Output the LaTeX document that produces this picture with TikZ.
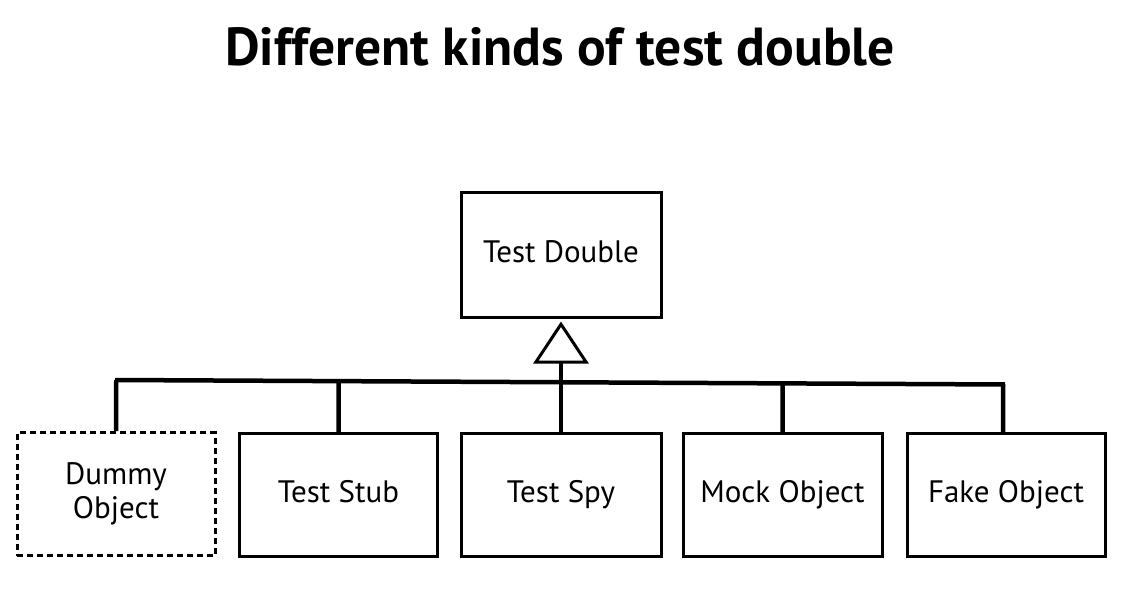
\documentclass[tikz,border=0pt]{standalone}
\usepackage{fontspec}
\setmainfont{PT Sans}
\usetikzlibrary{arrows.meta,calc}
\begin{document}
\begin{tikzpicture}[x=1pt,y=-1pt,
  box/.style={draw=black,line width=3pt,minimum width=198pt,minimum height=123pt,inner sep=0pt,align=center,font=\fontsize{31}{38}\selectfont},
  oneline/.style={text height=22pt,text depth=8pt},
  dummybox/.style={box,dash pattern=on 6pt off 4pt},
  link/.style={line width=4.5pt,line cap=butt},
  ttl/.style={font=\bfseries\fontsize{53.5}{64}\selectfont,inner sep=0pt,anchor=base}
]
\useasboundingbox[fill=white] (0,0) rectangle (1121,604);
\node[ttl] (title) at (560,66) {Different kinds of test double};
\node[box,oneline,minimum width=200pt,minimum height=124pt] (td) at (561,255) {Test Double};
\node[dummybox] (dummy) at (116,494) {\raisebox{-4pt}{\begin{tabular}{@{}c@{}}Dummy\\[-4pt]Object\end{tabular}}};
\node[box,oneline] (stub) at (338.5,495) {Test Stub};
\node[box,oneline,minimum width=200pt] (spy) at (561,495) {Test Spy};
\node[box,oneline,minimum width=199pt] (mock) at (782.5,495) {Mock Object};
\node[box,oneline] (fake) at (1006,495) {Fake Object};
\coordinate (busL) at (115,380);
\coordinate (busR) at (1005,384.5);
\draw[link] (busL) -- (busR);
\draw[link] (dummy.north) -- ($(busL)!(dummy.north)!(busR)$);
\draw[link] (stub.north) -- ($(busL)!(stub.north)!(busR)$);
\draw[link] (mock.north) -- ($(busL)!(mock.north)!(busR)$);
\draw[link] ([xshift=-3pt]fake.north) -- ($(busL)!([xshift=-3pt]fake.north)!(busR)$);
\draw[link,-{Triangle[open,length=42pt,width=55pt,line width=3pt]}] (spy.north) -- ([yshift=-3pt]td.south);
\end{tikzpicture}
\end{document}
